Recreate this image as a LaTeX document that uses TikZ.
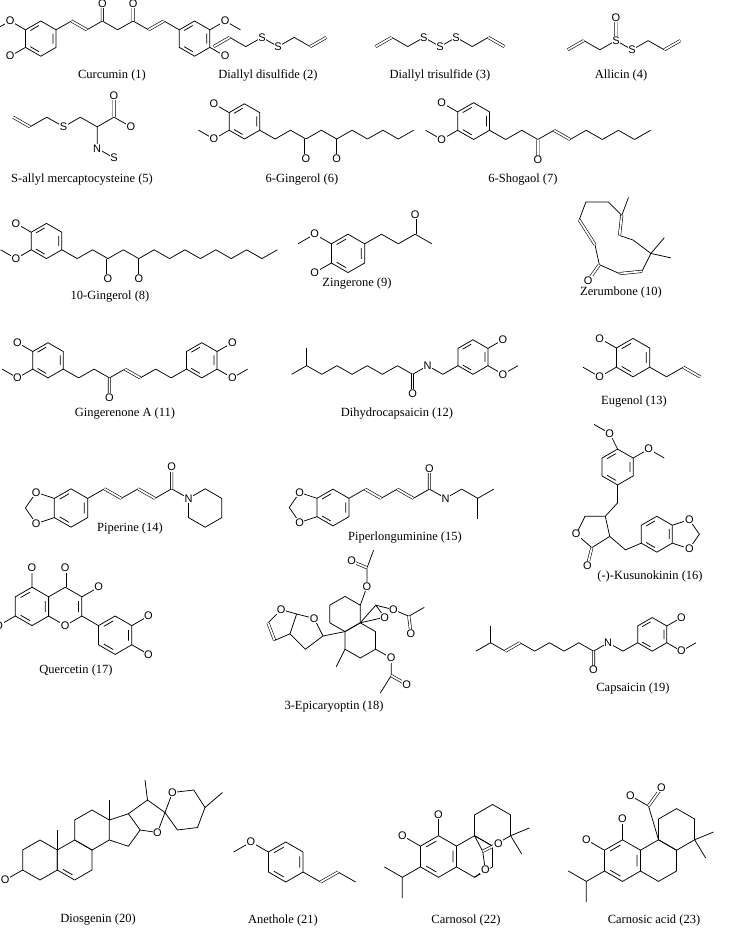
\documentclass[tikz,border=0pt]{standalone}
\usepackage{fontspec}
\setmainfont{Liberation Serif}
\setsansfont{Liberation Sans}
\usetikzlibrary{positioning}
\tikzset{
  bond/.style={line width=0.75pt},
  dbl/.style={double, double distance=1.8pt, line width=0.6pt},
  atom/.style={fill=white, inner sep=0.6pt, font=\sffamily\fontsize{11}{12}\selectfont},
  caption/.style={font=\fontsize{12.5}{14}\selectfont, inner sep=0pt},
}
% plain hexagon and benzene ring (pointy top), centre given
\newcommand{\hexa}[2]{\draw[bond,shift={(#1,#2)}] (90:16)--(30:16)--(-30:16)--(-90:16)--(-150:16)--(150:16)--cycle;}
\newcommand{\bz}[2]{\hexa{#1}{#2}\draw[bond,shift={(#1,#2)}] (-22:12)--(22:12) (98:12)--(142:12) (218:12)--(262:12);}
% zigzag chain: start x, start y, bonds, +1 first up / -1 first down
\newcommand{\zig}[4]{\foreach \i in {1,...,#3}{%
  \pgfmathsetmacro{\xa}{#1+(\i-1)*14}\pgfmathsetmacro{\ya}{#2-#4*8*mod(\i-1,2)}%
  \pgfmathsetmacro{\xb}{#1+\i*14}\pgfmathsetmacro{\yb}{#2-#4*8*mod(\i,2)}%
  \draw[bond] (\xa,\ya) -- (\xb,\yb);}}
% 4-OH, 3-OMe on the left of a ring / on the right of a ring
\newcommand{\vanL}[3]{\draw[bond] (#2-13.9,#3-8)--(#2-27.8,#3-16) (#2-13.9,#3+8)--(#2-27.8,#3+16)--(#2-41.7,#3+8);
  \node[atom] (#1h) at (#2-27.8,#3-16) {O};\node[atom] (#1m) at (#2-27.8,#3+16) {O};}
\newcommand{\vanR}[3]{\draw[bond] (#2+13.9,#3-8)--(#2+27.8,#3-16) (#2+13.9,#3+8)--(#2+27.8,#3+16)--(#2+41.7,#3+8);
  \node[atom] (#1h) at (#2+27.8,#3-16) {O};\node[atom] (#1m) at (#2+27.8,#3+16) {O};}
% methylenedioxy on the left of a ring
\newcommand{\dioxL}[3]{\draw[bond] (#2-13.9,#3-8)--(#2-29,#3-13)--(#2-38,#3)--(#2-29,#3+13)--(#2-13.9,#3+8);
  \node[atom] (#1a) at (#2-29,#3-13) {O};\node[atom] (#1b) at (#2-29,#3+13) {O};}
% scope that enlarges one molecule: drawn centre, new centre, factor
\newcommand{\molbegin}[5]{\begin{scope}[shift={(#3,#4)},scale=#5,shift={(-#1,-#2)}]}
\newcommand{\molend}{\end{scope}}

\begin{document}
\begin{tikzpicture}[x=1pt,y=-1pt]
\useasboundingbox (0,0) rectangle (733,942);
\fill[white] (0,0) rectangle (733,942);

% Curcumin (1)
\molbegin{112}{34}{120}{32}{1.1}
\bz{40}{40}\bz{179.8}{40}
\zig{53.9}{32}{8}{1}
\draw[dbl] (67.9,24)--(81.9,32) (137.9,32)--(151.9,24) (95.9,24)--(95.9,8) (123.9,24)--(123.9,8);
\draw[bond] (26.1,32)--(12.2,24)--(-2,32) (26.1,48)--(12.2,56);
\draw[bond] (193.7,32)--(207.6,24)--(221.5,32) (193.7,48)--(207.6,56);
\node[atom] (cu1) at (12.2,24) {O};\node[atom] (cu2) at (12.2,56) {O};
\node[atom] (cu3) at (95.9,8) {O};\node[atom] (cu4) at (123.9,8) {O};
\node[atom] (cu5) at (207.6,24) {O};\node[atom] (cu6) at (207.6,56) {O};
\molend
\node[caption] (l1) at (112,75) {Curcumin (1)};

% Diallyl disulfide (2)
\molbegin{275}{46}{270}{42}{1.15}
\zig{226}{50}{7}{1}
\draw[dbl] (226,50)--(240,42) (310,50)--(324,42);
\node[atom] (s2a) at (268,42) {S};\node[atom] (s2b) at (282,50) {S};
\molend
\node[caption] (l2) at (268,75) {Diallyl disulfide (2)};

% Diallyl trisulfide (3)
\molbegin{440}{46}{440}{42}{1.15}
\zig{384}{50}{8}{1}
\draw[dbl] (384,50)--(398,42) (482,42)--(496,50);
\node[atom] (s3a) at (426,42) {S};\node[atom] (s3b) at (440,50) {S};\node[atom] (s3c) at (454,42) {S};
\molend
\node[caption] (l3) at (440,75) {Diallyl trisulfide (3)};

% Allicin (4)
\molbegin{621}{40}{624}{36}{1.15}
\zig{572}{52}{7}{1}
\draw[dbl] (572,52)--(586,44) (656,52)--(670,44) (614,44)--(614,24);
\node[atom] (s4a) at (614,44) {S};\node[atom] (s4b) at (628,52) {S};\node[atom] (o4) at (614,24) {O};
\molend
\node[caption] (l4) at (621,75) {Allicin (4)};

% S-allyl mercaptocysteine (5)
\molbegin{65}{125}{72}{128}{1.2}
\zig{16}{116}{7}{-1}
\draw[dbl] (16,116)--(30,124) (100,116)--(100,98);
\draw[bond] (86,124)--(86,142)--(100,150);
\node[atom] (s5a) at (58,124) {S};\node[atom] (o5a) at (100,98) {O};\node[atom] (o5b) at (114,124) {O};
\node[atom] (n5) at (86,142) {N};\node[atom] (s5b) at (100,150) {S};
\molend
\node[caption] (l5) at (82,180) {S-allyl mercaptocysteine (5)};

% 6-Gingerol (6)
\molbegin{304}{128}{306}{128}{1.1}
\bz{248}{122}\vanL{g6}{248}{122}
\zig{261.9}{130}{10}{-1}
\draw[dbl] (303.9,138)--(303.9,156);
\draw[bond] (331.9,138)--(331.9,156);
\node[atom] (g6k) at (303.9,156) {O};\node[atom] (g6o) at (331.9,156) {O};
\molend
\node[caption] (l6) at (302,180) {6-Gingerol (6)};

% 6-Shogaol (7)
\molbegin{526}{128}{538}{128}{1.15}
\bz{470}{122}\vanL{s7}{470}{122}
\zig{483.9}{130}{10}{-1}
\draw[dbl] (525.9,138)--(525.9,156) (539.9,130)--(553.9,138);
\node[atom] (s7k) at (525.9,156) {O};
\molend
\node[caption] (l7) at (523,180) {6-Shogaol (7)};

% 10-Gingerol (8)
\molbegin{135}{255}{140}{252}{1.1}
\bz{50}{245}\vanL{g8}{50}{245}
\zig{63.9}{253}{14}{-1}
\draw[dbl] (105.9,261)--(105.9,279);
\draw[bond] (133.9,261)--(133.9,279);
\node[atom] (g8k) at (105.9,279) {O};\node[atom] (g8o) at (133.9,279) {O};
\molend
\node[caption] (l8) at (110,297) {10-Gingerol (8)};

% Zingerone (9)
\molbegin{365}{245}{360}{245}{1.2}
\bz{355}{252}
\zig{368.9}{244}{4}{1}
\draw[dbl] (410.9,236)--(410.9,220);
\draw[bond] (341.1,244)--(327.2,236)--(313.3,244) (341.1,260)--(327.2,268);
\node[atom] (z9a) at (327.2,236) {O};\node[atom] (z9b) at (327.2,268) {O};\node[atom] (z9k) at (410.9,220) {O};
\molend
\node[caption] (l9) at (357,284) {Zingerone (9)};

% Zerumbone (10)
\molbegin{632}{240}{624}{240}{1.12}
\draw[bond] (592,222)--(598,206)--(618,206)--(630,218)--(628,236)--(640,240)--(656,252)--(648,268)--(628,270)--(610,262)--(606,244)--(592,222);
\draw[bond] (630,218)--(636,202) (656,252)--(668,238) (656,252)--(674,256);
\draw[dbl] (630,218)--(628,236) (648,268)--(628,270) (606,244)--(592,222) (610,262)--(600,276);
\node[atom] (z10) at (600,276) {O};
\molend
\node[caption] (l10) at (621,292) {Zerumbone (10)};

% Gingerenone A (11)
\molbegin{120}{372}{125}{368}{1.1}
\bz{50}{365}\vanL{ga}{50}{365}
\bz{189.8}{365}\vanR{gb}{189.8}{365}
\zig{63.9}{373}{8}{-1}
\draw[dbl] (105.9,381)--(105.9,399) (119.9,373)--(133.9,381);
\node[atom] (g11) at (105.9,399) {O};
\molend
\node[caption] (l11) at (125,414) {Gingerenone A (11)};

% Dihydrocapsaicin (12)
\molbegin{407}{372}{405}{370}{1.08}
\bz{469.9}{360}\vanR{dc}{469.9}{360}
\zig{302}{376}{11}{1}
\draw[bond] (316,368)--(316,352);
\draw[dbl] (414,376)--(414,394);
\node[atom] (dck) at (414,394) {O};\node[atom] (dcn) at (428,368) {N};
\molend
\node[caption] (l12) at (397,414) {Dihydrocapsaicin (12)};

% Eugenol (13)
\molbegin{640}{362}{645}{360}{1.2}
\bz{630}{360}\vanL{eu}{630}{360}
\zig{643.9}{368}{3}{-1}
\draw[dbl] (671.9,368)--(685.9,376);
\molend
\node[caption] (l13) at (634,402) {Eugenol (13)};

% Piperine (14)
\molbegin{95}{490}{125}{496}{1.2}
\bz{50}{500}\dioxL{pi}{50}{500}
\zig{63.9}{492}{6}{1}
\draw[dbl] (77.9,484)--(91.9,492) (105.9,484)--(119.9,492) (133.9,484)--(133.9,466);
\hexa{161.8}{500}
\node[atom] (pik) at (133.9,466) {O};\node[atom] (pin) at (147.9,492) {N};
\molend
\node[caption] (l14) at (130,528) {Piperine (14)};

% Piperlonguminine (15)
\molbegin{385}{490}{410}{496}{1.15}
\bz{318}{500}\dioxL{pl}{318}{500}
\zig{331.9}{492}{9}{1}
\draw[bond] (443.9,492)--(443.9,510);
\draw[dbl] (345.9,484)--(359.9,492) (373.9,484)--(387.9,492) (401.9,484)--(401.9,466);
\node[atom] (plk) at (401.9,466) {O};\node[atom] (pln) at (415.9,492) {N};
\molend
\node[caption] (l15) at (405,538) {Piperlonguminine (15)};

% (-)-Kusunokinin (16)
\molbegin{625}{495}{640}{495}{1.12}
\bz{605}{470}\bz{640}{530}
\draw[bond] (605,454)--(598,440)--(584,432) (618.9,462)--(632.8,454)--(646.7,462);
\draw[bond] (605,486)--(605,502)--(594,514)--(598,532)--(582,542)--(568,530)--(576,514)--(594,514);
\draw[bond] (598,532)--(612,544)--(626.1,538);
\draw[dbl] (582,542)--(578,558);
\draw[bond] (653.9,522)--(669,517)--(678,530)--(669,543)--(653.9,538);
\node[atom] (k1) at (598,440) {O};\node[atom] (k2) at (632.8,454) {O};
\node[atom] (k3) at (568,530) {O};\node[atom] (k4) at (578,558) {O};
\node[atom] (k5) at (669,517) {O};\node[atom] (k6) at (669,543) {O};
\molend
\node[caption] (l16) at (650,576) {(-)-Kusunokinin (16)};

% Quercetin (17)
\molbegin{80}{615}{80}{610}{1.2}
\bz{40}{612}\hexa{67.7}{612}
\draw[bond,shift={(67.7,612)}] (-22:12)--(22:12);
\bz{109.3}{636}
\draw[bond] (40,596)--(40,580) (26.1,620)--(12.2,628) (81.6,604)--(95.5,596) (81.6,620)--(95.4,628);
\draw[dbl] (67.7,596)--(67.7,580);
\draw[bond] (123.2,628)--(137.1,620) (123.2,644)--(137.1,652);
\node[atom] (q1) at (40,580) {O};\node[atom] (q2) at (67.7,580) {O};\node[atom] (q3) at (95.5,596) {O};
\node[atom] (q4) at (12.2,628) {O};\node[atom] (q5) at (67.7,628) {O};
\node[atom] (q6) at (137.1,620) {O};\node[atom] (q7) at (137.1,652) {O};
\molend
\node[caption] (l17) at (76,670) {Quercetin (17)};

% 3-Epicaryoptin (18)
\molbegin{320}{610}{345}{625}{1.1}
\hexa{320}{600}\hexa{333.9}{624}
\draw[bond] (333.9,592)--(340,575)--(340,558)--(346,542);
\draw[dbl] (340,558)--(326,552);
\draw[bond] (333.9,608)--(348,592)--(356,603)--(333.9,608);
\draw[bond] (348,592)--(364,596)--(378,602)--(392,594);
\draw[dbl] (378,602)--(380,618);
\draw[bond] (347.8,632)--(362,640)--(362,656)--(352,672);
\draw[dbl] (362,656)--(376,664);
\draw[bond] (320,632)--(312,648);
\draw[bond] (320,616)--(300,620)--(292,604)--(276,600)--(270,618)--(284,632)--(300,620);
\draw[bond] (276,600)--(262,596)--(250,608);
\draw[dbl] (250,608)--(256,624);
\draw[bond] (256,624)--(270,618);
\node[atom] (e1) at (340,575) {O};\node[atom] (e2) at (326,552) {O};
\node[atom] (e3) at (356,603) {O};\node[atom] (e4) at (364,596) {O};\node[atom] (e5) at (380,618) {O};
\node[atom] (e6) at (362,640) {O};\node[atom] (e7) at (376,664) {O};
\node[atom] (e8) at (292,604) {O};\node[atom] (e9) at (262,596) {O};
\molend
\node[caption] (l18) at (334,707) {3-Epicaryoptin (18)};

% Capsaicin (19)
\molbegin{600}{645}{604}{648}{1.05}
\bz{645.9}{632}\vanR{cp}{645.9}{632}
\zig{478}{648}{11}{1}
\draw[bond] (492,640)--(492,624);
\draw[dbl] (506,648)--(520,640) (590,648)--(590,666);
\node[atom] (cpk) at (590,666) {O};\node[atom] (cpn) at (604,640) {N};
\molend
\node[caption] (l19) at (633,688) {Capsaicin (19)};

% Diosgenin (20)
\molbegin{100}{860}{115}{845}{1.25}
\hexa{40}{872}\hexa{67.7}{872}\hexa{81.6}{848}
\draw[bond,shift={(67.7,872)}] (98:12)--(142:12);
\draw[bond] (95.5,840)--(110.7,835)--(120.1,848)--(110.7,861)--(95.5,856);
\draw[bond] (120.1,848)--(134,850)--(140,834)--(126,824)--(110.7,835);
\draw[bond] (140,834)--(146,818)--(163,816)--(172,830)--(166,846)--(150,848)--(140,834);
\draw[bond] (172,830)--(186,818) (126,824)--(124,808) (95.5,840)--(95.5,824) (53.9,864)--(53.9,848);
\draw[bond] (26.1,880)--(12.2,888);
\node[atom] (d1) at (134,850) {O};\node[atom] (d2) at (146,818) {O};\node[atom] (d3) at (12.2,888) {O};
\molend
\node[caption] (l20) at (98,920) {Diosgenin (20)};

% Anethole (21)
\molbegin{290}{862}{292}{862}{1.25}
\bz{285}{862}
\draw[bond] (271.1,854)--(257.2,846)--(243.3,854);
\zig{298.9}{870}{3}{-1}
\draw[dbl] (312.9,878)--(326.9,870);
\node[atom] (an) at (257.2,846) {O};
\molend
\node[caption] (l21) at (283,920) {Anethole (21)};

% Carnosol (22)
\molbegin{445}{855}{458}{850}{1.3}
\bz{430}{860}\hexa{457.7}{860}\hexa{471.6}{836}
\draw[bond] (430,844)--(430,828) (416.1,852)--(402.2,844);
\draw[bond] (416.1,868)--(402.2,876)--(388.3,868) (402.2,876)--(402.2,892);
\draw[bond] (485.5,844)--(500,838) (485.5,844)--(494,858);
\draw[bond] (457.7,844)--(464,856)--(466,870)--(457.7,876);
\draw[dbl] (464,856)--(476,850);
\node[atom] (c1) at (430,828) {O};\node[atom] (c2) at (402.2,844) {O};
\node[atom] (c3) at (476,850) {O};\node[atom] (c4) at (466,870) {O};
\molend
\node[caption] (l22) at (466,920) {Carnosol (22)};

% Carnosic acid (23)
\molbegin{625}{850}{642}{845}{1.3}
\bz{610}{862}\hexa{637.7}{862}\hexa{651.6}{838}
\draw[bond] (610,846)--(610,830) (596.1,854)--(582.2,846);
\draw[bond] (596.1,870)--(582.2,878)--(568.3,870) (582.2,878)--(582.2,894);
\draw[bond] (665.5,846)--(680,840) (665.5,846)--(674,860);
\draw[bond] (637.7,846)--(630,820)--(616,812);
\draw[dbl] (630,820)--(640,806);
\node[atom] (a1) at (610,830) {O};\node[atom] (a2) at (582.2,846) {O};
\node[atom] (a3) at (616,812) {O};\node[atom] (a4) at (640,806) {O};
\molend
\node[caption] (l23) at (654,920) {Carnosic acid (23)};
\end{tikzpicture}
\end{document}
